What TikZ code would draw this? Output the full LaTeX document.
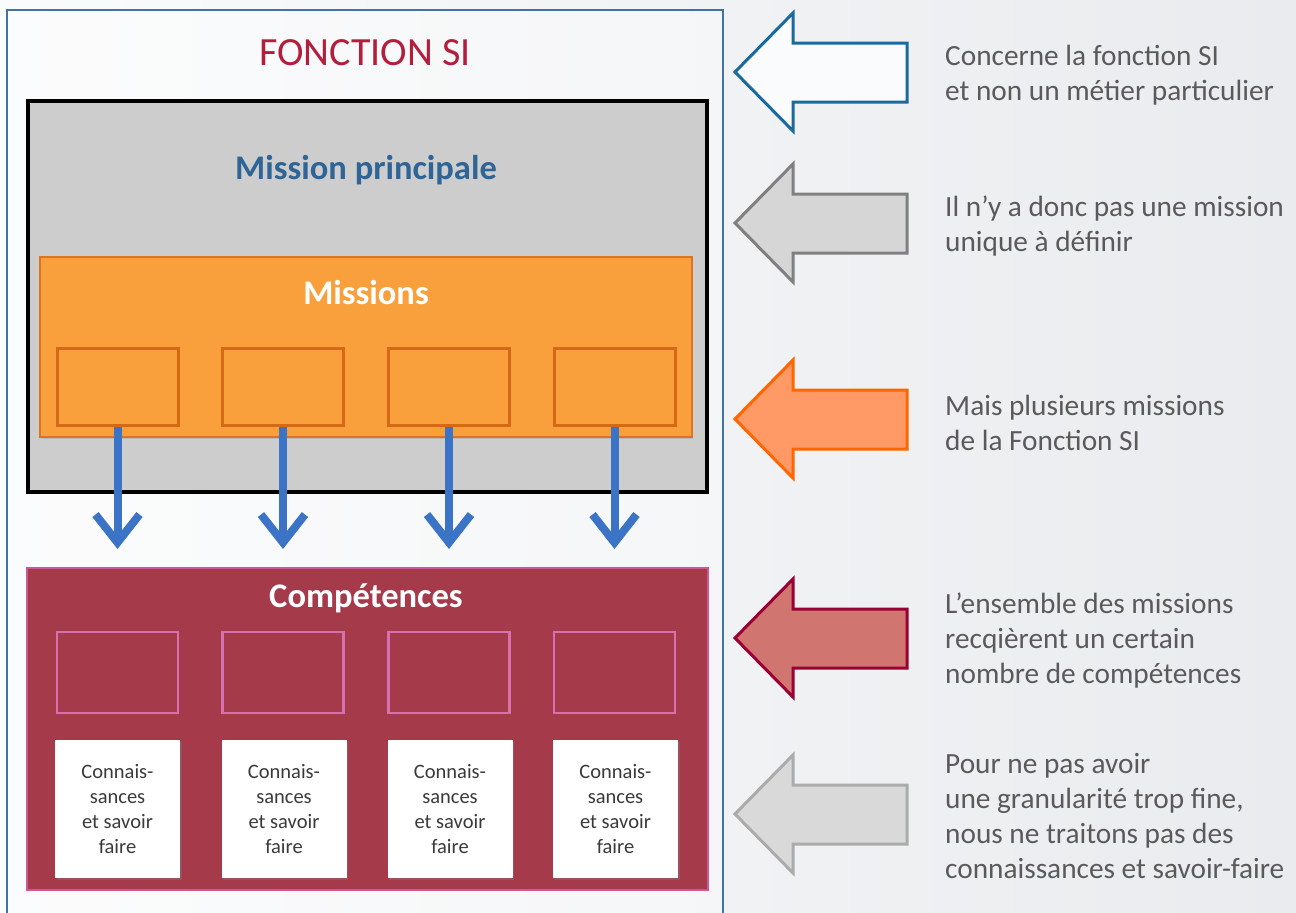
\documentclass[tikz,border=0pt]{standalone}
\usepackage{fontspec}
\setmainfont{Carlito}
\usetikzlibrary{arrows.meta,shadows}

\definecolor{bgL}{HTML}{FAFBFC}
\definecolor{bgR}{HTML}{E9EBEE}
\definecolor{frameblue}{HTML}{4273A3}
\definecolor{titlered}{HTML}{B31E3C}
\definecolor{mpgray}{HTML}{CDCDCD}
\definecolor{mpblue}{HTML}{2F6596}
\definecolor{orfill}{HTML}{F9A03D}
\definecolor{ordraw}{HTML}{DD7420}
\definecolor{orsmall}{HTML}{D56A16}
\definecolor{flowblue}{HTML}{3B74C6}
\definecolor{cpfill}{HTML}{A53A4B}
\definecolor{cpdraw}{HTML}{CC5896}
\definecolor{cpsmall}{HTML}{D870B0}
\definecolor{notegray}{HTML}{5A5A5A}
\definecolor{boxtext}{HTML}{3A3A3A}
\definecolor{aBlueDraw}{HTML}{1B6A9E}
\definecolor{aGrayFill}{HTML}{D6D6D6}
\definecolor{aGrayDraw}{HTML}{808080}
\definecolor{aOrFill}{HTML}{FF9966}
\definecolor{aOrDraw}{HTML}{FF6600}
\definecolor{aRedFill}{HTML}{D07570}
\definecolor{aRedDraw}{HTML}{990033}
\definecolor{aLtFill}{HTML}{D9D9D9}
\definecolor{aLtDraw}{HTML}{ABABAB}

\newcommand{\blockarrow}[3]{%
  \draw[line width=3pt, line join=miter, draw=#3, fill=#2]
    (735,#1) -- (793,#1-59) -- (793,#1-29) -- (907,#1-29)
    -- (907,#1+30) -- (793,#1+30) -- (793,#1+59) -- cycle;}

\begin{document}
\begin{tikzpicture}[x=1pt,y=-1pt,
  heading/.style={font=\bfseries\fontsize{34.5}{40}\selectfont, inner sep=0pt},
  mbox/.style={draw=orsmall, line width=3pt, fill=orfill,
    minimum width=121pt, minimum height=77pt, inner sep=0pt},
  cbox/.style={draw=cpsmall, line width=2.5pt, fill=cpfill,
    minimum width=121pt, minimum height=81pt, inner sep=0pt},
  kbox/.style={fill=white, minimum width=125pt, minimum height=138pt,
    inner sep=0pt, align=center, text=boxtext,
    font=\fontsize{20.5}{25}\selectfont,
    drop shadow={shadow xshift=1.5pt, shadow yshift=-2pt, opacity=0.35}},
  flow/.style={draw=flowblue, line width=8pt,
    -{Straight Barb[length=28pt, width=44pt]}, shorten >=18pt},
  note/.style={anchor=west, inner sep=0pt, align=left, text=notegray,
    font=\fontsize{29.3}{35}\selectfont}]

\useasboundingbox (0,0) rectangle (1296,913);
\shade[left color=bgL, right color=bgR] (0,0) rectangle (1296,913);

% framed panel on the left
\fill[white, opacity=0.35] (7,10) rectangle (723,913);
\draw[frameblue, line width=1.2pt] (7,913) -- (7,10) -- (723,10) -- (723,913);
\node[text=titlered, font=\fontsize{40}{46}\selectfont, inner sep=0pt]
  (title) at (365,53) {FONCTION SI};

% main mission block
\node[draw=black, line width=4pt, fill=mpgray, minimum width=679pt,
  minimum height=391pt, inner sep=0pt] (mp) at (367.5,296.5) {};
\node[heading, text=mpblue] (mptext) at (366,170) {Mission principale};

% missions
\node[draw=ordraw, line width=2pt, fill=orfill, minimum width=652pt,
  minimum height=180pt, inner sep=0pt,
  drop shadow={shadow xshift=1pt, shadow yshift=-2pt, opacity=0.25}]
  (ms) at (366,347) {};
\node[heading, text=white] (mstext) at (366,293) {Missions};
\node[mbox] (m1) at (117.5,386.5) {};
\node[mbox] (m2) at (283,386.5) {};
\node[mbox] (m3) at (449,386.5) {};
\node[mbox] (m4) at (614.5,386.5) {};

% competences
\node[draw=cpdraw, line width=2pt, fill=cpfill, minimum width=681pt,
  minimum height=322pt, inner sep=0pt] (cp) at (367.5,729) {};
\node[heading, text=white] (cptext) at (366,598) {Compétences};
\node[cbox] (c1) at (117.5,672.5) {};
\node[cbox] (c2) at (283,672.5) {};
\node[cbox] (c3) at (449,672.5) {};
\node[cbox] (c4) at (614.5,672.5) {};
\node[kbox] (k1) at (117.5,809) {Connais-\\sances\\et savoir\\faire};
\node[kbox] (k2) at (284,809) {Connais-\\sances\\et savoir\\faire};
\node[kbox] (k3) at (450,809) {Connais-\\sances\\et savoir\\faire};
\node[kbox] (k4) at (615.5,809) {Connais-\\sances\\et savoir\\faire};

% flows from missions to competences
\foreach \i in {1,...,4}
  \draw[flow] (m\i.south) -- (m\i.south |- cp.north);

% commentary arrows and notes
\blockarrow{72}{bgL}{aBlueDraw}
\blockarrow{223}{aGrayFill}{aGrayDraw}
\blockarrow{419}{aOrFill}{aOrDraw}
\blockarrow{638}{aRedFill}{aRedDraw}
\blockarrow{814}{aLtFill}{aLtDraw}

\node[note] (n1) at (945,75) {Concerne la fonction SI\\et non un métier particulier};
\node[note] (n2) at (945,226) {Il n’y a donc pas une mission\\unique à définir};
\node[note] (n3) at (945,423) {Mais plusieurs missions\\de la Fonction SI};
\node[note] (n4) at (945,641) {L’ensemble des missions\\recqièrent un certain\\nombre de compétences};
\node[note] (n5) at (945,816.5) {Pour ne pas avoir\\une granularité trop fine,\\nous ne traitons pas des\\connaissances et savoir-faire};
\end{tikzpicture}
\end{document}
